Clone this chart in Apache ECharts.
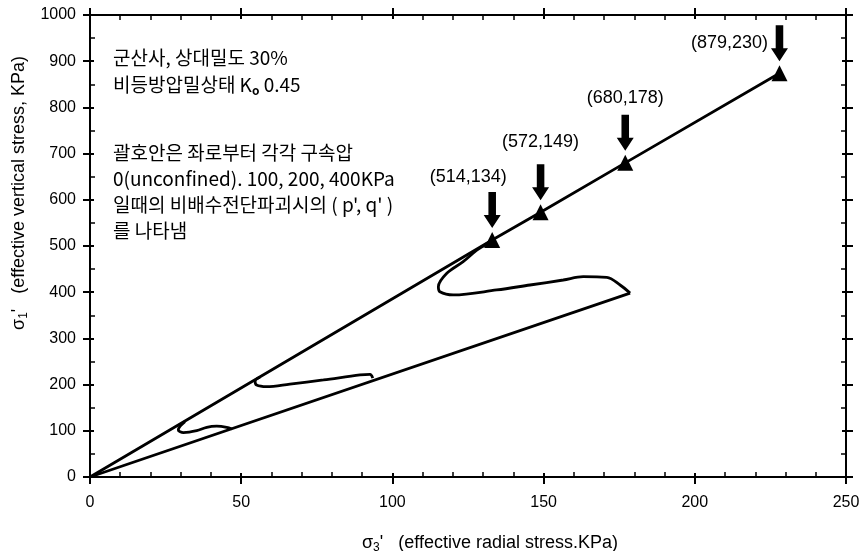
<!DOCTYPE html>
<html>
<head>
<meta charset="utf-8">
<script src="https://cdn.jsdelivr.net/npm/echarts@6/dist/echarts.min.js"></script>
<style>
html,body{margin:0;padding:0;background:#fff;}
#main{width:866px;height:551px;}
</style>
</head>
<body>
<div id="main"></div>
<script>
// failure points: [sigma3', sigma1']
var failPoints = [[133, 513], [149, 573], [177, 680], [228, 874]];
var failLabels = ['(514,134)', '(572,149)', '(680,178)', '(879,230)'];
// K0 consolidation line (K0 = 0.45)
var k0Line = [[0, 0], [178.6, 398]];
// undrained stress paths, from the K0 line back to the failure line
var pathUnconfined = [[46.9, 104], [45.2, 107.6], [41.9, 110], [38.6, 107.6], [35.3, 100.2], [30.9, 96], [29.2, 101.7], [29.8, 110], [31.4, 120]];
var path100 = [[93.5, 214], [92.6, 222], [89.3, 221], [77.2, 210], [66.1, 201], [58.4, 195.5], [55.1, 199], [54.6, 208], [56.2, 216]];
var path200 = [[178.6, 398], [175.3, 415.6], [170.9, 432.3], [163.1, 433.5], [156.5, 426.4], [145.5, 415.6], [134.5, 404.8], [120.1, 394], [115.7, 401], [115.2, 412], [118, 441], [123.4, 466], [127.9, 491], [130.6, 502], [133, 513]];
// annotation text
var noteLines = [
  '군산사, 상대밀도 30%',
  '비등방압밀상태 K{o|o} 0.45',
  '괄호안은 좌로부터 각각 구속압',
  '0(unconfined). 100, 200, 400KPa',
  '일때의 비배수전단파괴시의 ( p\', q\' )',
  '를 나타냄'
];

var latin = 'Liberation Sans';
var black = '#000';

var chart = echarts.init(document.getElementById('main'));

function frameAxis(base, pos, main, inside) {
  return Object.assign({}, base, {
    position: pos,
    axisLine: { show: main, onZero: false, lineStyle: { color: black, width: 2 } },
    axisTick: { show: true, inside: inside, length: inside ? 4 : 7, lineStyle: { color: black, width: 2 } },
    minorTick: { show: inside, splitNumber: base.minorSplit, length: 5, lineStyle: { color: black, width: 1.5 } },
    axisLabel: { show: false },
    splitLine: { show: false }
  });
}

var xBase = { type: 'value', min: 0, max: 250, interval: 50, minorSplit: 5 };
var yBase = { type: 'value', min: 0, max: 1000, interval: 100, minorSplit: 2 };

var xMain = frameAxis(xBase, 'bottom', true, false);
xMain.axisLabel = { show: true, margin: 18, color: black, fontSize: 16, fontFamily: latin };
xMain.name = '{t|σ}{s|3}{t|\'   (effective radial stress.KPa)}';
xMain.nameLocation = 'middle';
xMain.nameGap = 56;
xMain.nameTextStyle = {
  padding: [0, 0, 0, 44],
  rich: {
    t: { fontSize: 18, fontFamily: latin, color: black },
    s: { fontSize: 12, fontFamily: latin, color: black, verticalAlign: 'bottom', padding: [9, 0, 0, 0] }
  }
};

var yMain = frameAxis(yBase, 'left', true, false);
yMain.axisLabel = {
  show: true, margin: 14, color: black, fontSize: 16, fontFamily: latin,
  formatter: function (v) { return String(v); }
};
yMain.name = '{t|σ}{s|1}{t|\'   (effective vertical stress, KPa)}';
yMain.nameLocation = 'middle';
yMain.nameGap = 50;
yMain.nameTextStyle = {
  padding: [0, 0, 0, 106],
  rich: {
    t: { fontSize: 18, fontFamily: latin, color: black },
    s: { fontSize: 12, fontFamily: latin, color: black, verticalAlign: 'bottom', padding: [9, 0, 0, 0] }
  }
};

var noteGraphics = noteLines.map(function (txt, i) {
  var tops = [48, 75, 143, 169, 195, 221];
  return {
    type: 'text',
    left: 113,
    top: tops[i],
    style: {
      text: txt,
      fill: black,
      font: '19px "Noto Sans CJK KR"',
      rich: {
        o: { fontSize: 12, fontWeight: 'bold', fontFamily: 'Noto Sans CJK KR', fill: black, verticalAlign: 'bottom', padding: [11, 0, 0, 0] }
      }
    }
  };
});

var labelOpts = [
  { position: 'top', offset: [-24, -1] },
  { position: 'top', offset: [0, -8] },
  { position: 'top', offset: [0, -3] },
  { position: 'left', distance: 3, offset: [0, 0] }
];

var lineStyle = { color: black, width: 2.8 };

chart.setOption({
  animation: false,
  backgroundColor: '#fff',
  grid: { left: 90, right: 20, top: 15, bottom: 74, containLabel: false, outerBoundsMode: 'none' },
  graphic: noteGraphics,
  xAxis: [
    xMain,
    frameAxis(xBase, 'bottom', false, true),
    frameAxis(xBase, 'top', true, true),
    frameAxis(xBase, 'top', false, false)
  ],
  yAxis: [
    yMain,
    frameAxis(yBase, 'left', false, true),
    frameAxis(yBase, 'right', true, true),
    frameAxis(yBase, 'right', false, false)
  ],
  series: [
    { type: 'line', data: k0Line, symbol: 'none', lineStyle: lineStyle },
    { type: 'line', data: [[0, 0]].concat(failPoints), symbol: 'none', lineStyle: lineStyle },
    { type: 'line', data: pathUnconfined, symbol: 'none', smooth: 0.35, lineStyle: lineStyle },
    { type: 'line', data: path100, symbol: 'none', smooth: 0.35, lineStyle: lineStyle },
    { type: 'line', data: path200, symbol: 'none', smooth: 0.35, lineStyle: lineStyle },
    {
      type: 'scatter',
      data: failPoints,
      symbol: 'triangle',
      symbolSize: 16,
      itemStyle: { color: black, opacity: 1 },
      markPoint: {
        symbol: 'path://M4,0 L12,0 L12,23 L17,23 L8,36 L-1,23 L4,23 Z',
        symbolSize: [17, 36],
        symbolOffset: [0, -30],
        itemStyle: { color: black },
        label: {
          show: true,
          color: black,
          fontSize: 18,
          fontFamily: latin,
          formatter: function (p) { return failLabels[p.dataIndex]; }
        },
        data: failPoints.map(function (p, i) {
          return { coord: p, label: labelOpts[i] };
        })
      }
    }
  ]
});
</script>
</body>
</html>
